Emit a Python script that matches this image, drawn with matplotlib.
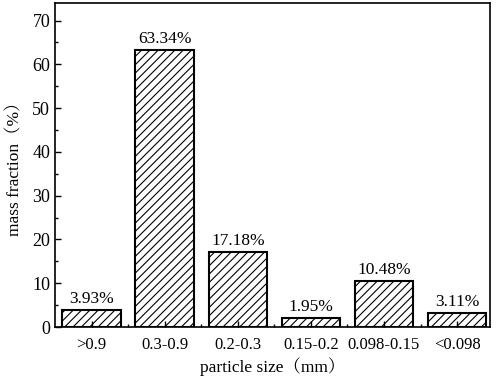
import matplotlib.pyplot as plt
import numpy as np

categories = ['>0.9', '0.3-0.9', '0.2-0.3', '0.15-0.2', '0.098-0.15', '<0.098']
values = [3.93, 63.34, 17.18, 1.95, 10.48, 3.11]
labels = ['3.93%', '63.34%', '17.18%', '1.95%', '10.48%', '3.11%']

plt.rcParams['font.family'] = ['Liberation Serif', 'Noto Serif CJK SC', 'Noto Sans CJK SC']
plt.rcParams['font.size'] = 12
plt.rcParams['hatch.linewidth'] = 0.8

fig = plt.figure(figsize=(4.98, 3.78), dpi=100)
ax = fig.add_axes([55 / 498, 51 / 378, 435 / 498, 324 / 378])

x = np.arange(len(categories))
ax.bar(x, values, width=0.8, color='white', edgecolor='black', linewidth=1.5, hatch='////')
for xi, v, lab in zip(x, values, labels):
    ax.text(xi, v + 0.7, lab, ha='center', va='bottom', fontsize=12.5)

ax.set_xlim(-0.5, 5.45)
ax.set_ylim(0, 74)
ax.set_xticks(x)
ax.set_xticklabels(categories, fontsize=12)
ax.set_xticks(x[:-1] + 0.5, minor=True)
ax.set_yticks(np.arange(0, 71, 10))
ax.set_yticks(np.arange(5, 71, 10), minor=True)
ax.tick_params(axis='y', labelsize=13)
ax.tick_params(which='both', direction='in', top=False, right=False)
ax.tick_params(which='major', length=4, width=1)
ax.tick_params(axis='x', which='major', pad=7)
ax.tick_params(which='minor', length=2.5, width=1)
for s in ax.spines.values():
    s.set_linewidth(1.2)

ax.set_xlabel('particle size（mm）', fontsize=12.5, labelpad=3)
ax.set_ylabel('mass fraction（%）', fontsize=12.5, labelpad=6)

fig.savefig('out.png', dpi=100)
